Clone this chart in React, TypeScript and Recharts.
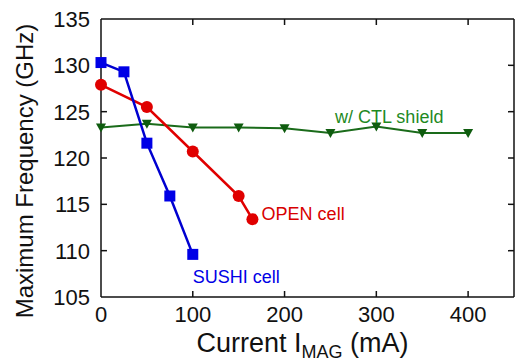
import React from 'react';
import { LineChart, Line, XAxis, YAxis, ReferenceDot, ReferenceLine } from 'recharts';

const sushiCurrent = [0, 25, 50, 75, 100];
const sushiFreq = [130.3, 129.3, 121.6, 115.9, 109.6];
const openCurrent = [0, 50, 100, 150, 165];
const openFreq = [127.9, 125.5, 120.7, 115.9, 113.4];
const ctlCurrent = [0, 50, 100, 150, 200, 250, 300, 350, 400];
const ctlFreq = [123.3, 123.7, 123.3, 123.3, 123.2, 122.7, 123.4, 122.7, 122.7];
const xTicks = [0, 100, 200, 300, 400];
const yTicks = [105, 110, 115, 120, 125, 130, 135];
const xDomain = [0, 450];
const yDomain = [105, 135];
const annotations = [
  { x: 255, y: 123.8, text: 'w/ CTL shield', color: '#1f8a1f' },
  { x: 175, y: 113.3, text: 'OPEN cell', color: '#d80000' },
  { x: 100, y: 106.5, text: 'SUSHI cell', color: '#0000e6' },
];

const toPoints = (xs: number[], ys: number[]) => xs.map((x, i) => ({ x, y: ys[i] }));
const sushi = toPoints(sushiCurrent, sushiFreq);
const open = toPoints(openCurrent, openFreq);
const ctl = toPoints(ctlCurrent, ctlFreq);

const FONT = 'Liberation Sans, Arial, sans-serif';
const W = 516;
const H = 364;
const INK = '#111';
const TICK_X = 0.65;
const TICK_Y = 6.5;

const BottomTick = (props: any) => {
  const { x, y, payload } = props;
  return (
    <text x={x} y={y + 25} textAnchor="middle" fontSize={22} fontFamily={FONT} fill={INK}>
      {payload.value}
    </text>
  );
};
const LeftTick = (props: any) => {
  const { x, y, payload } = props;
  return (
    <text x={x - 11} y={y + 8} textAnchor="end" fontSize={22} fontFamily={FONT} fill={INK}>
      {payload.value}
    </text>
  );
};

const Square = (props: any) => {
  const { cx, cy } = props;
  if (cx == null || cy == null) return null;
  return <rect x={cx - 5.5} y={cy - 5.5} width={11} height={11} fill="#0000e6" />;
};
const Circle = (props: any) => {
  const { cx, cy } = props;
  if (cx == null || cy == null) return null;
  return <circle cx={cx} cy={cy} r={6} fill="#e00000" />;
};
const Tri = (props: any) => {
  const { cx, cy } = props;
  if (cx == null || cy == null) return null;
  return <path d={`M${cx - 5},${cy - 4} L${cx + 5},${cy - 4} L${cx},${cy + 5} Z`} fill="#0f5c0f" />;
};

const XTitle = (props: any) => {
  const vb = props.viewBox || {};
  const cx = vb.x + vb.width / 2 - 5;
  return (
    <text x={cx} y={352} textAnchor="middle" fontSize={27} fontFamily={FONT} fill={INK}>
      <tspan>Current I</tspan>
      <tspan fontSize={18} dy={6}>MAG</tspan>
      <tspan dy={-6}> (mA)</tspan>
    </text>
  );
};
const YTitle = () => (
  <text x={33} y={171} transform="rotate(-90, 33, 171)" textAnchor="middle" fontSize={24} fontFamily={FONT} fill={INK}>
    Maximum Frequency (GHz)
  </text>
);

export default function App() {
  const [x0, x1] = xDomain;
  const [y0, y1] = yDomain;
  return (
    <div style={{ position: 'absolute', left: 0, top: 0 }}>
      <LineChart width={W} height={H} margin={{ top: 19, right: 2, bottom: 0, left: 0 }}>
        <XAxis
          dataKey="x"
          type="number"
          domain={xDomain}
          ticks={xTicks}
          height={67}
          tickSize={0}
          tickMargin={0}
          tick={<BottomTick />}
          axisLine={{ stroke: INK, strokeWidth: 1.5 }}
          label={<XTitle />}
        />
        <YAxis
          type="number"
          domain={yDomain}
          ticks={yTicks}
          width={101}
          tickSize={0}
          tickMargin={0}
          tick={<LeftTick />}
          axisLine={{ stroke: INK, strokeWidth: 1.5 }}
          label={<YTitle />}
        />
        <ReferenceLine y={y1} stroke={INK} strokeWidth={1.5} />
        <ReferenceLine x={x1} stroke={INK} strokeWidth={1.5} />
        {xTicks.slice(1).map((v) => (
          <ReferenceLine key={'b' + v} segment={[{ x: v, y: y0 }, { x: v, y: y0 + TICK_X }]} stroke={INK} strokeWidth={1.5} />
        ))}
        {xTicks.slice(1).map((v) => (
          <ReferenceLine key={'t' + v} segment={[{ x: v, y: y1 }, { x: v, y: y1 - TICK_X }]} stroke={INK} strokeWidth={1.5} />
        ))}
        {yTicks.slice(1, -1).map((v) => (
          <ReferenceLine key={'l' + v} segment={[{ x: x0, y: v }, { x: x0 + TICK_Y, y: v }]} stroke={INK} strokeWidth={1.5} />
        ))}
        {yTicks.slice(1, -1).map((v) => (
          <ReferenceLine key={'r' + v} segment={[{ x: x1, y: v }, { x: x1 - TICK_Y, y: v }]} stroke={INK} strokeWidth={1.5} />
        ))}
        <Line data={ctl} dataKey="y" stroke="#1a6b1a" strokeWidth={2} dot={<Tri />} isAnimationActive={false} />
        <Line data={open} dataKey="y" stroke="#e00000" strokeWidth={2.5} dot={<Circle />} isAnimationActive={false} />
        <Line data={sushi} dataKey="y" stroke="#0000d0" strokeWidth={2.5} dot={<Square />} isAnimationActive={false} />
        {annotations.map((a) => (
          <ReferenceDot
            key={a.text}
            x={a.x}
            y={a.y}
            r={0}
            fill="none"
            stroke="none"
            label={(p: any) => {
              const vb = p.viewBox || {};
              const cx = vb.x + (vb.width || 0) / 2;
              const cy = vb.y + (vb.height || 0) / 2;
              return (
                <text x={cx} y={cy} fontSize={18} fontFamily={FONT} fill={a.color} textAnchor="start">
                  {a.text}
                </text>
              );
            }}
          />
        ))}
      </LineChart>
    </div>
  );
}
